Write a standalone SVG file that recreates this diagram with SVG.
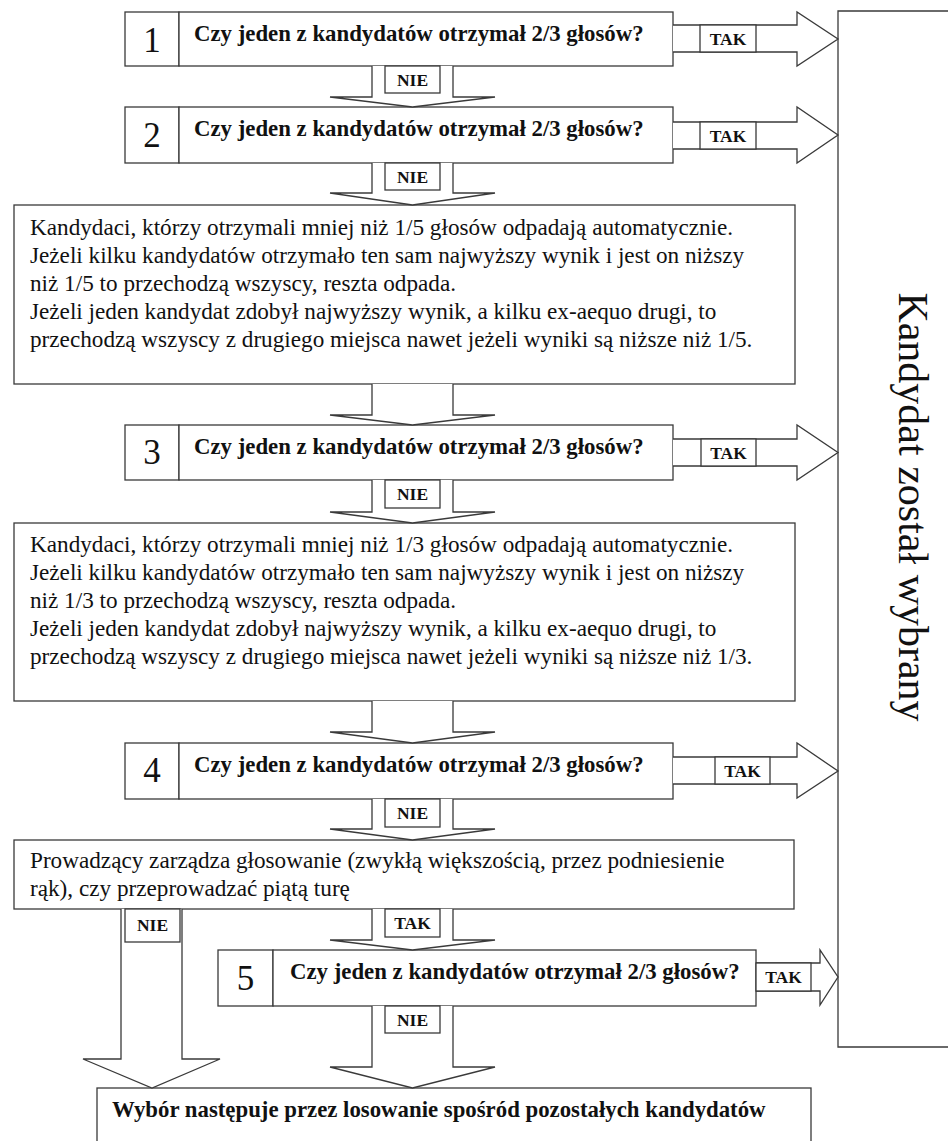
<svg xmlns="http://www.w3.org/2000/svg" width="948" height="1141" viewBox="0 0 948 1141">
<style>
.box{fill:#fff;stroke:#3a3a3a;stroke-width:1.3}
.arr{fill:#fff;stroke:#3a3a3a;stroke-width:1.3;stroke-linejoin:miter}
.lb{fill:#fff;stroke:#3a3a3a;stroke-width:1.3}
.q{font-family:"Liberation Serif",serif;font-weight:bold;font-size:22.8px;fill:#111}
.num{font-family:"Liberation Serif",serif;font-size:35px;fill:#111;text-anchor:middle}
.body{font-family:"Liberation Serif",serif;font-size:23.2px;fill:#111}
.tl{font-family:"Liberation Serif",serif;font-weight:bold;font-size:17.5px;fill:#111;text-anchor:middle}
.big{font-family:"Liberation Serif",serif;font-size:42px;fill:#111;text-anchor:middle}
</style>
<rect width="948" height="1141" fill="#fff"/>

<g id="node-result">
<path class="box" d="M953,11 H838 V1047 H953"/>
<text class="big" transform="translate(899,507) rotate(90)">Kandydat został wybrany</text>
</g>

<g id="node-q1">
<rect class="box" x="125" y="12" width="54" height="54"/>
<rect class="box" x="179" y="12" width="494" height="54"/>
<text class="num" x="152" y="52">1</text>
<text class="q" x="194" y="41">Czy jeden z kandydatów otrzymał 2/3 głosów?</text>
</g>

<g id="node-q2">
<rect class="box" x="125" y="107" width="54" height="56"/>
<rect class="box" x="179" y="107" width="494" height="56"/>
<text class="num" x="152" y="147">2</text>
<text class="q" x="194" y="136">Czy jeden z kandydatów otrzymał 2/3 głosów?</text>
</g>

<g id="node-rule15">
<rect class="box" x="14" y="205" width="781" height="179"/>
<text class="body" x="30" y="235">Kandydaci, którzy otrzymali mniej niż 1/5 głosów odpadają automatycznie.</text>
<text class="body" x="30" y="263">Jeżeli kilku kandydatów otrzymało ten sam najwyższy wynik i jest on niższy</text>
<text class="body" x="30" y="291">niż 1/5 to przechodzą wszyscy, reszta odpada.</text>
<text class="body" x="30" y="319">Jeżeli jeden kandydat zdobył najwyższy wynik, a kilku ex-aequo drugi, to</text>
<text class="body" x="30" y="347">przechodzą wszyscy z drugiego miejsca nawet jeżeli wyniki są niższe niż 1/5.</text>
</g>

<g id="node-q3">
<rect class="box" x="125" y="425" width="54" height="55"/>
<rect class="box" x="179" y="425" width="494" height="55"/>
<text class="num" x="152" y="464">3</text>
<text class="q" x="194" y="454">Czy jeden z kandydatów otrzymał 2/3 głosów?</text>
</g>

<g id="node-rule13">
<rect class="box" x="14" y="523" width="781" height="178"/>
<text class="body" x="30" y="552">Kandydaci, którzy otrzymali mniej niż 1/3 głosów odpadają automatycznie.</text>
<text class="body" x="30" y="580">Jeżeli kilku kandydatów otrzymało ten sam najwyższy wynik i jest on niższy</text>
<text class="body" x="30" y="608">niż 1/3 to przechodzą wszyscy, reszta odpada.</text>
<text class="body" x="30" y="636">Jeżeli jeden kandydat zdobył najwyższy wynik, a kilku ex-aequo drugi, to</text>
<text class="body" x="30" y="664">przechodzą wszyscy z drugiego miejsca nawet jeżeli wyniki są niższe niż 1/3.</text>
</g>

<g id="node-q4">
<rect class="box" x="125" y="743" width="54" height="56"/>
<rect class="box" x="179" y="743" width="494" height="56"/>
<text class="num" x="152" y="782">4</text>
<text class="q" x="194" y="772">Czy jeden z kandydatów otrzymał 2/3 głosów?</text>
</g>

<g id="node-vote">
<rect class="box" x="14" y="840" width="780" height="69"/>
<text class="body" x="30" y="868">Prowadzący zarządza głosowanie (zwykłą większością, przez podniesienie</text>
<text class="body" x="30" y="896">rąk), czy przeprowadzać piątą turę</text>
</g>

<g id="node-q5">
<rect class="box" x="218" y="950" width="55" height="56"/>
<rect class="box" x="273" y="950" width="483" height="56"/>
<text class="num" x="245.5" y="990">5</text>
<text class="q" x="290" y="979">Czy jeden z kandydatów otrzymał 2/3 głosów?</text>
</g>

<g id="node-draw">
<rect class="box" x="97" y="1088" width="714" height="70"/>
<text class="q" x="112" y="1117">Wybór następuje przez losowanie spośród pozostałych kandydatów</text>
</g>

<g id="connectors">
<!-- down arrows -->
<path class="arr" d="M372,66 V97 H330 L412.5,107 L495,97 H453 V66"/>
<rect class="lb" x="385" y="66" width="55" height="27"/>
<text class="tl" x="412.5" y="86">NIE</text>

<path class="arr" d="M372,163 V193 H330 L412.5,205 L495,193 H453 V163"/>
<rect class="lb" x="385" y="163" width="55" height="27"/>
<text class="tl" x="412.5" y="183">NIE</text>

<path class="arr" d="M372,384 V415 H330 L412.5,425 L495,415 H453 V384"/>

<path class="arr" d="M372,480 V512 H330 L412.5,523 L495,512 H453 V480"/>
<rect class="lb" x="385" y="480" width="55" height="28"/>
<text class="tl" x="412.5" y="500">NIE</text>

<path class="arr" d="M372,701 V732 H330 L412.5,743 L495,732 H453 V701"/>

<path class="arr" d="M372,799 V829 H330 L412.5,840 L495,829 H453 V799"/>
<rect class="lb" x="385" y="799" width="55" height="28"/>
<text class="tl" x="412.5" y="819">NIE</text>

<path class="arr" d="M372,909 V940 H330 L412.5,950 L495,940 H453 V909"/>
<rect class="lb" x="385" y="909" width="55" height="28"/>
<text class="tl" x="412.5" y="929">TAK</text>

<path class="arr" d="M372,1006 V1067 H330 L412.5,1088 L495,1067 H453 V1006"/>
<rect class="lb" x="385" y="1006" width="55" height="27"/>
<text class="tl" x="412.5" y="1026">NIE</text>

<path class="arr" d="M121,909 V1059 H83 L152,1088 L220,1059 H182 V909"/>
<rect class="lb" x="125" y="909" width="55" height="33"/>
<text class="tl" x="152.5" y="931">NIE</text>

<!-- TAK arrows to the right -->
<path class="arr" d="M673,25 H797 V12 L838,39 L797,66 V52 H673"/>
<rect class="lb" x="700" y="25" width="56" height="27"/>
<text class="tl" x="728" y="45">TAK</text>

<path class="arr" d="M673,122 H797 V107 L838,135 L797,163 V149 H673"/>
<rect class="lb" x="700" y="122" width="56" height="27"/>
<text class="tl" x="728" y="142">TAK</text>

<path class="arr" d="M673,439 H797 V425 L838,452.5 L797,480 V466 H673"/>
<rect class="lb" x="701" y="439" width="55" height="27"/>
<text class="tl" x="728.5" y="459">TAK</text>

<path class="arr" d="M673,757 H797 V743 L838,771 L797,798 V784 H673"/>
<rect class="lb" x="715" y="757" width="55" height="27"/>
<text class="tl" x="742.5" y="777">TAK</text>

<path class="arr" d="M756,963 H820 V950 L838,977 L820,1005 V991 H756"/>
<rect class="lb" x="756" y="963" width="55" height="28"/>
<text class="tl" x="783.5" y="983">TAK</text>
</g>
</svg>
